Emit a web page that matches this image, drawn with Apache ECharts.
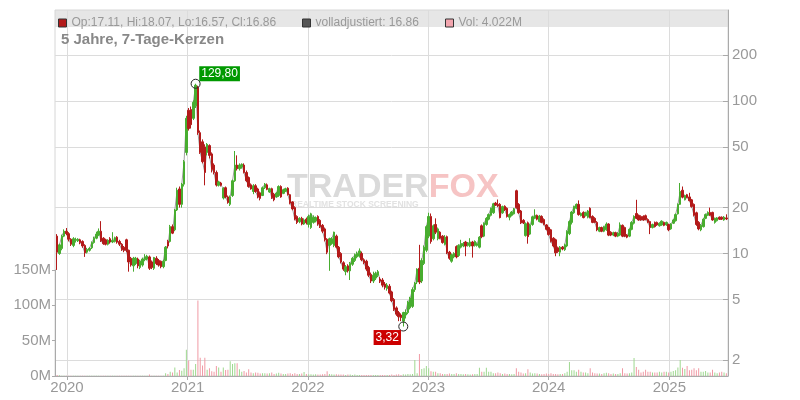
<!DOCTYPE html>
<html><head><meta charset="utf-8">
<script src="https://cdn.jsdelivr.net/npm/echarts@6/dist/echarts.min.js"></script>
<style>html,body{margin:0;padding:0;background:#fff}#c{width:800px;height:400px}</style>
</head><body><div id="c"></div>
<script>
// ---- data (weekly candles, first week starting 2019-12-02) ----
const START_DATE = Date.UTC(2019, 11, 2);
const OPEN = [
13.0,10.0,10.8,13.0,14.0,13.5,12.4,11.3,12.2,12.1,
12.3,12.0,11.3,10.2,10.5,10.9,11.8,12.6,13.2,14.0,
12.6,12.3,11.5,12.5,11.9,12.0,12.8,12.0,11.5,11.0,
12.3,10.5,9.3,8.3,8.6,9.2,8.1,8.4,9.1,9.2,
9.5,8.8,8.0,9.3,9.0,8.9,8.2,9.0,12.0,12.0,
15.0,14.3,19.3,26.5,21.0,28.5,46,87,88,77,
93,123,62,54,50,46,51,45,38,34,
28,29,23.1,27,23.5,21,24,30,38,36,
37,38,34,31.5,28.2,25.5,27.8,26.5,25,24,
27,28.2,25.3,26.6,24.5,23.5,24,27.5,24.8,25.6,
26.8,24.3,21.8,20,17.5,16.2,17,15.6,16.8,15.5,
14.8,16,16.4,17.5,16.5,15.3,14.5,12.4,11.3,11.6,
11.3,13,11,10,8.7,7.6,8.3,7.7,8.5,9,
9.5,9.6,10,9.1,8.9,8.1,7.3,6.6,6.9,7.2,
6.8,6.7,6.3,5.9,6.1,5.6,5,4.4,4.1,3.95,
3.6,3.95,4.1,4.4,4.5,5.8,6.5,8,6.6,8.6,
10.5,13,17.5,12.5,15.5,12.5,13.8,13,11.5,12.9,
10.2,8.9,9.5,11.1,9.7,11,11.2,11.9,11.3,11.2,
11.9,11.3,11.3,11,15.2,13,15.5,16.8,17.8,18.5,
21.4,21,21,18.5,20.4,19.8,17.3,17.8,18.2,25.8,
21,19,16.5,13.1,15.9,13.4,15.5,17,17.8,16.2,
17.5,16.7,15.4,14.8,14.3,12.6,12.3,10.9,10.2,11,
10.6,11.2,13.5,16,18.5,19.8,21,17.7,18.6,17.7,
17.3,19.8,17.5,17,16,14,14.8,14,14.3,15.6,
13.8,13.2,13.7,13,13.2,15.3,14.8,13.2,13,14.4,
15.8,18.3,17.8,17.5,17.5,17.7,16.7,16.2,14.8,16,
16,15.2,15.4,16,15.4,15.5,14.5,15.8,16.4,18.2,
21,26,22.5,24.3,23.5,22.5,21,18.5,16,14.3,
15,17,17.8,18.6,18.6,16,16.4,17.3,17.3,16.6,
17.11];
const CLOSE = [
10.2,11.4,13.0,14.0,13.5,12.4,11.5,12.5,12.3,12.4,
11.8,11.2,10.1,10.6,10.8,11.8,12.6,13.4,14.0,12.1,
11.6,11.5,12.2,11.9,12.2,12.7,11.9,11.5,10.6,10.5,
10.5,8.8,8.4,9.3,9.3,8.3,8.9,9.2,9.5,9.6,
8.0,8.1,9.4,8.6,8.4,8.2,8.9,11.0,11.2,15.0,
13.6,19.3,26.0,21.0,28.5,40,77,66,70,98,
127,62,46,40,34,52,44,35.5,34,28.1,
29.5,28,26.8,23.5,21.6,23.5,30,38,36,38,
38.5,34,30,27.5,26.5,27.8,25.5,23.5,23,27,
28.5,26.4,26.6,23.2,22.5,24.9,27.5,23.5,26.2,26.6,
24.3,21.4,19.6,16.8,16,17,15.6,16.6,15.9,17.5,
18.2,17.3,17.2,15.6,15,14,12.3,10.2,12.5,12.5,
13.8,11,9.5,8.8,7.9,8.2,7.7,8.6,9.3,9.8,
10,10.4,9.1,8.7,7.9,7.2,6.6,7.2,7.4,7.6,
6.6,6.2,6,6.2,5.5,4.9,4.3,4,3.85,3.8,
4.1,4.1,4.8,5.1,5.8,6.4,7.9,6.5,9,11,
15,17.5,12,15.2,13.8,14.5,12.6,11.8,12.8,10.1,
9.3,9.8,10,9.5,11.3,11.6,11.6,11.2,11.7,11.9,
11.2,12,11.6,12.8,12.9,15.8,17,18,19.8,21.2,
20.8,20.5,17.2,20.3,19.3,17.5,18,18.7,19.6,20,
18.5,15.9,15.9,15.7,12.9,15.4,17.4,17.8,16.8,17.6,
16,15.5,14.4,13.3,12,11.2,10.1,10.3,11,10.7,
11.4,14,16.2,18.7,20.3,21,18,18.3,17.2,18.5,
19,17.2,16,16,14.3,14.8,14,15,15.6,13.2,
13.2,13.7,13,13.6,15.4,13,13,12.8,14.4,16,
17.5,17,16.6,16.6,16.6,16.7,16,14.8,15.5,15,
15.4,15.8,16.3,15.3,16,14.3,15.6,16.6,18,21,
25.5,23.4,24,23.3,22.2,20.3,17.8,15.5,14.5,15.3,
16.8,18,18.6,17.8,16.6,17,17.1,16.8,16.8,17.3,
16.86];
const LOW = [
7.8,9.8,10.5,12.8,13.2,12.0,11.2,11.0,11.8,11.9,
11.5,10.9,9.5,10.0,10.3,10.7,11.6,12.4,13.0,11.9,
11.4,11.3,11.3,11.6,11.7,11.8,11.6,11.2,10.4,10.2,
10.2,7.6,8.2,7.6,8.4,8.0,7.9,8.2,8.9,9.0,
7.8,7.9,7.8,8.4,8.2,8.0,8.0,8.9,10.8,11.8,
13.4,14.0,19.0,20.0,20.0,27.5,44,64,66,75,
90,60,45,39,28,44,42,34,33,27.5,
27.5,27.5,22.6,23,21.2,20.5,23.5,29.5,35,35,
36,33.5,29.5,27,26.2,24.5,25,23,22.3,23.8,
26.5,26,25,22.8,22,23.2,23.5,23.2,24.5,25.3,
24,21,19.2,16.5,15.6,15.8,15.3,15.4,15.5,14.8,
14.5,15.7,16,15.2,14.7,13.6,12,9.9,7.7,11.4,
11,10.8,9.3,8.6,7.7,7.2,7.5,6.7,8.3,8.8,
9.3,9.4,8.9,8.5,7.7,7,6.4,6.4,6.7,7,
6.4,6,5.8,5.7,5.4,4.8,4.2,3.9,3.6,3.6,
3.32,3.75,4,4.3,4.4,5.6,6.3,6.3,6.4,8.4,
10.2,12.6,11.6,12.2,13.4,12.2,12.4,11.6,11.3,9.9,
9.1,8.7,9.3,9.3,9.5,10.8,11,9.6,11.1,11,
9.4,11.1,11.1,10.8,12.6,12.8,15.2,16.5,17.5,18.2,
20.5,20.2,17,18.2,19,17.2,16.5,17.5,18,19.7,
18.2,15.6,15.6,12.9,11.6,13.2,15.2,16.8,16.5,16,
15.8,15.3,14.2,13.1,11.8,11,9.6,10.1,9.6,10.5,
10.4,11,13.2,15.5,18.2,19.5,17.7,17.5,17,17.5,
17,17,15.8,15.8,14,13.8,13.8,13.8,14.1,13,
13,13,12.8,12.8,13,12.8,12.8,12.6,12.8,14.2,
15.5,16.8,16.4,16.4,16.4,16.5,15.8,13.4,14.6,14.8,
15.2,15,15.2,15.1,15.2,14,14.3,15.6,16.2,18,
20.8,23,22.3,23,22,20,17.5,15.2,14.2,14,
14.8,16.8,17.6,17.6,16.4,15.7,16.2,16.6,16.6,16.4,
16.57];
const HIGH = [
13.4,11.6,13.3,14.4,14.7,13.8,12.6,12.8,12.7,12.6,
12.5,12.2,11.5,10.9,11.0,12.0,12.9,13.9,14.6,16.3,
12.8,12.5,12.4,12.8,13.8,12.9,13.0,12.3,11.7,11.2,
12.5,10.6,9.5,9.5,9.5,9.4,9.1,9.4,9.9,9.8,
9.7,9.0,9.5,9.6,9.2,9.0,9.1,11.2,12.3,15.4,
15.5,19.6,27.0,27.5,29.0,41,80,90,92,101,
129.8,126,64,56,52,53,52,46,39,35,
30,29.5,27.2,27.5,24,24,30.5,47,44,39,
39,39,35,32,28.8,28.5,28.5,27,25.5,27.5,
29,28.8,27,27,25,25.2,28,28,26.6,27,
27.2,24.6,22,20.4,17.8,17.3,17.4,17,17.2,18,
18.5,17.8,17.5,17.8,16.8,15.6,14.8,12.6,12.7,12.8,
13.9,13.3,11.2,10.2,8.9,8.4,8.5,8.8,9.5,10,
10.3,10.8,10.3,9.3,9.1,8.3,7.5,7.6,7.6,7.8,
7,6.9,6.5,6.4,6.3,5.7,5.1,4.5,4.2,4.05,
4.15,4.3,4.9,5.2,6,6.5,8,11.4,9.3,11.3,
15.3,18.5,18.3,15.5,17,14.8,14,13.2,13.2,13.1,
10.4,10,10.2,11.3,11.5,12.3,11.9,12.1,11.9,12.6,
12.1,12.2,11.8,13,15.5,16,17.3,18.3,20,21.5,
21.8,22.6,21.4,20.6,20.7,20.1,18.3,19,19.9,26.2,
21.4,19.3,16.8,16,16.2,15.7,17.7,19.5,18,17.9,
17.8,17,15.6,15,14.5,12.8,12.5,11.1,11.2,11.2,
11.6,14.2,16.5,19,20.6,21.3,22.3,18.6,18.9,18.8,
19.3,20.1,17.8,17.3,16.3,15,15,15.2,16,15.8,
14,13.9,13.9,13.8,16,15.5,15,13.4,14.6,16.3,
17.8,22.5,18,17.8,17.8,18,17,16.4,15.7,16.2,
16.2,16,16.5,16.2,16.2,15.7,15.8,16.8,18.3,21.3,
29,27.5,24.3,24.6,25,22.8,21.3,18.8,16.3,15.6,
17,18.3,18.9,20,18.8,17.2,17.3,17.5,17.5,17.6,
18.07];
// weekly volume in millions
const VOLUME = [
1.5,1.0,0.5,0.4,0.3,0.3,0.2,0.2,0.2,0.2,
0.2,0.2,0.3,0.2,0.2,0.2,0.2,0.2,0.3,0.3,
0.2,0.2,0.2,0.2,0.2,0.2,0.2,0.2,0.2,0.2,
0.3,0.5,0.3,0.3,0.2,0.2,0.2,0.2,0.2,0.2,
2.0,0.5,0.4,0.3,0.3,0.3,0.3,4.0,3.0,6.0,
5,12,5,8.5,7.5,11,37,22,9,9,
17,107,26,15,26,9,11,6.6,6,14,
12,6,12,8.5,9,21,17,18,18,9.4,
6,7,5,9.4,5,4,5,4.5,3.5,4,
4,3.5,4,5,3,3.5,4.5,3.5,3,3,
3.5,4,3,4,3,3,3.5,5.6,3,2.5,
2.5,2,2.5,2,2,2.5,3,6.6,3,2.5,
2,2.5,2,2,2,1.5,2,2,1.5,2,
1.5,1.5,1.5,1.5,1.5,1.5,1.5,1.5,1.5,1.5,
1.5,1.5,1.5,1.5,1.5,2,1.5,2,2.5,1.5,
2.5,2,3,2.5,3,22.7,4,31,10,11,
14,11,6.6,6,6,4,4,3,3,3,
3.5,3,3,4,3,3,2.5,3,2.5,2,
2.5,3,3,11.8,6,6,11.8,6,6,4,
4,5,4,3,3.5,3,3,2.5,3,10.8,
6,5,3.5,4,9.4,5,3.5,4,3.5,3,
2.5,3,3.5,3,4,3,3,2.5,3,3,
4,6,19.8,8,8,6,9,6,5,5,
4,11,5,4,3.5,3.5,3,4,4.5,4,
3,3.5,3,3,4,11,4,3.5,4,5,
25.5,12.7,9,5,6,9,6,6,5,5,
5,6,5,6,6,5,6,7,8,12,
22.7,11.8,10,14,8,9,11,8,11,6,
6,7,5,5,9,5,4,5,6,5,
4.022];
const PRICE_TICKS = [2, 5, 10, 20, 50, 100, 200];
const VOL_TICKS = [0, 50, 100, 150];
const YEARS = [2020, 2021, 2022, 2023, 2024, 2025];
const PEAK = { index: 60, value: 129.8, text: '129,80' };
const TROUGH = { index: 150, value: 3.32, text: '3,32' };

// ---- build ----
const WEEK = 7 * 86400000;
const lg = Math.log10;
const dates = OPEN.map((_, i) => START_DATE + i * WEEK);
const candleData = OPEN.map((o, i) => [dates[i], lg(o), lg(CLOSE[i]), lg(LOW[i]), lg(HIGH[i])]);
const lineData = CLOSE.map((c, i) => [dates[i], lg(c)]);
const UP = '#48ad30', DOWN = '#b31a1a';
const volData = VOLUME.map((v, i) => ({
  value: [dates[i], v],
  itemStyle: { color: CLOSE[i] >= OPEN[i] ? '#9fd890' : '#f09aa5' }
}));
const last = OPEN.length - 1;
const FONT = 'Liberation Sans, Arial, sans-serif';
const yearTicks = YEARS.map(y => Date.UTC(y, 0, 1));
const xMin = Date.UTC(2019, 10, 25, 12), xMax = Date.UTC(2025, 5, 28);

const chart = echarts.init(document.getElementById('c'), null, { renderer: 'canvas' });
chart.setOption({
  animation: false,
  textStyle: { fontFamily: FONT },
  title: {
    text: '5 Jahre, 7-Tage-Kerzen', left: 56, top: 27,
    textStyle: { fontSize: 15, fontWeight: 'bold', color: '#888', fontFamily: FONT }
  },
  legend: [
    { left: 53, top: 12, icon: 'rect', itemWidth: 8, itemHeight: 8, selectedMode: false,
      data: [{ name: 'Kurs', itemStyle: { color: DOWN, borderColor: '#333', borderWidth: 1 } }],
      formatter: () => 'Op:' + OPEN[last].toFixed(2) + ', Hi:' + HIGH[last].toFixed(2) + ', Lo:' + LOW[last].toFixed(2) + ', Cl:' + CLOSE[last].toFixed(2),
      textStyle: { color: '#999', fontSize: 12, fontFamily: FONT } },
    { left: 297, top: 12, icon: 'rect', itemWidth: 8, itemHeight: 8, selectedMode: false,
      data: [{ name: 'volladjustiert', itemStyle: { color: '#555', borderColor: '#333', borderWidth: 1 } }],
      formatter: () => 'volladjustiert: ' + CLOSE[last].toFixed(2),
      textStyle: { color: '#999', fontSize: 12, fontFamily: FONT } },
    { left: 440, top: 12, icon: 'rect', itemWidth: 8, itemHeight: 8, selectedMode: false,
      data: [{ name: 'Vol', itemStyle: { color: '#f2a5ae', borderColor: '#333', borderWidth: 1 } }],
      formatter: () => 'Vol: ' + VOLUME[last].toFixed(3) + 'M',
      textStyle: { color: '#999', fontSize: 12, fontFamily: FONT } }
  ],
  graphic: [
    { type: 'rect', z: -5, shape: { x: 55, y: 10, width: 673, height: 17 }, style: { fill: '#e6e6e6' } },
    { type: 'text', z: -4, left: 287, top: 171,
      style: { text: '{a|TRADER}{b|FOX}',
        rich: { a: { fill: '#dadada', fontSize: 34, fontWeight: 'bold', fontFamily: FONT },
                b: { fill: '#f6c4c4', fontSize: 34, fontWeight: 'bold', fontFamily: FONT } } } },
    { type: 'text', z: -4, left: 291, top: 200,
      style: { text: 'REALTIME STOCK SCREENING', fill: '#e2e2e2', fontSize: 8.5, fontWeight: 'bold', fontFamily: FONT } }
  ],
  grid: [
    { left: 55, right: 72, top: 10, bottom: 24, show: true, borderColor: '#d6d6d6', borderWidth: 1, backgroundColor: 'transparent' },
    { left: 55, right: 72, top: 270, bottom: 24 }
  ],
  xAxis: [
    { type: 'value', gridIndex: 0, min: xMin, max: xMax,
      axisLine: { show: true, lineStyle: { color: '#aaa', width: 1 } },
      axisTick: { show: true, length: 4, customValues: yearTicks, lineStyle: { color: '#aaa' } },
      axisLabel: { customValues: yearTicks, formatter: v => String(new Date(v).getUTCFullYear()),
        color: '#999', fontSize: 15, margin: 4, fontFamily: FONT },
      splitLine: { show: true, lineStyle: { color: '#dcdcdc', width: 1 } } },
    { type: 'value', gridIndex: 1, min: xMin, max: xMax, show: false }
  ],
  yAxis: [
    { type: 'value', gridIndex: 0, position: 'right', min: lg(1.573), max: lg(395.2),
      axisLine: { show: true, lineStyle: { color: '#aaa', width: 1 } },
      axisTick: { show: true, inside: true, length: 5, customValues: PRICE_TICKS.map(lg), lineStyle: { color: '#aaa' } },
      axisLabel: { customValues: PRICE_TICKS.map(lg), formatter: v => String(Math.round(Math.pow(10, v))),
        color: '#999', fontSize: 15, margin: 4, fontFamily: FONT },
      splitLine: { show: true, lineStyle: { color: '#dcdcdc', width: 1 } } },
    { type: 'value', gridIndex: 1, position: 'left', min: 0, max: 150, interval: 50,
      axisLine: { show: true, lineStyle: { color: '#aaa', width: 1 } },
      axisTick: { show: true, length: 3, lineStyle: { color: '#aaa' } },
      axisLabel: { formatter: '{value}M', color: '#999', fontSize: 15, margin: 4, fontFamily: FONT },
      splitLine: { show: false } }
  ],
  series: [
    { name: 'Vol', type: 'bar', xAxisIndex: 1, yAxisIndex: 1, barWidth: 1, data: volData, z: 1, silent: true },
    { name: 'volladjustiert', type: 'line', xAxisIndex: 0, yAxisIndex: 0, data: lineData,
      showSymbol: false, lineStyle: { color: '#a0a0a0', width: 1 }, itemStyle: { color: '#555' }, z: 2, silent: true },
    { name: 'Kurs', type: 'candlestick', xAxisIndex: 0, yAxisIndex: 0, data: candleData,
      encode: { x: 0, y: [1, 2, 3, 4] }, barWidth: 2, z: 3, silent: true,
      itemStyle: { color: UP, color0: DOWN, borderColor: UP, borderColor0: DOWN, borderWidth: 1 },
      markPoint: {
        symbol: 'circle', symbolSize: 9, silent: true,
        itemStyle: { color: 'rgba(0,0,0,0)', borderColor: '#222', borderWidth: 1 },
        data: [
          { coord: [dates[PEAK.index], lg(PEAK.value)],
            label: { show: true, position: 'inside', offset: [24, -10], formatter: PEAK.text,
              backgroundColor: '#009900', color: '#fff', fontSize: 12, padding: [2, 2, 1, 2], fontFamily: FONT } },
          { coord: [dates[TROUGH.index], lg(TROUGH.value)],
            label: { show: true, position: 'inside', offset: [-16, 11], formatter: TROUGH.text,
              backgroundColor: '#cc0000', color: '#fff', fontSize: 12, padding: [2, 2, 1, 2], fontFamily: FONT } }
        ]
      } }
  ]
});
</script>
</body></html>
